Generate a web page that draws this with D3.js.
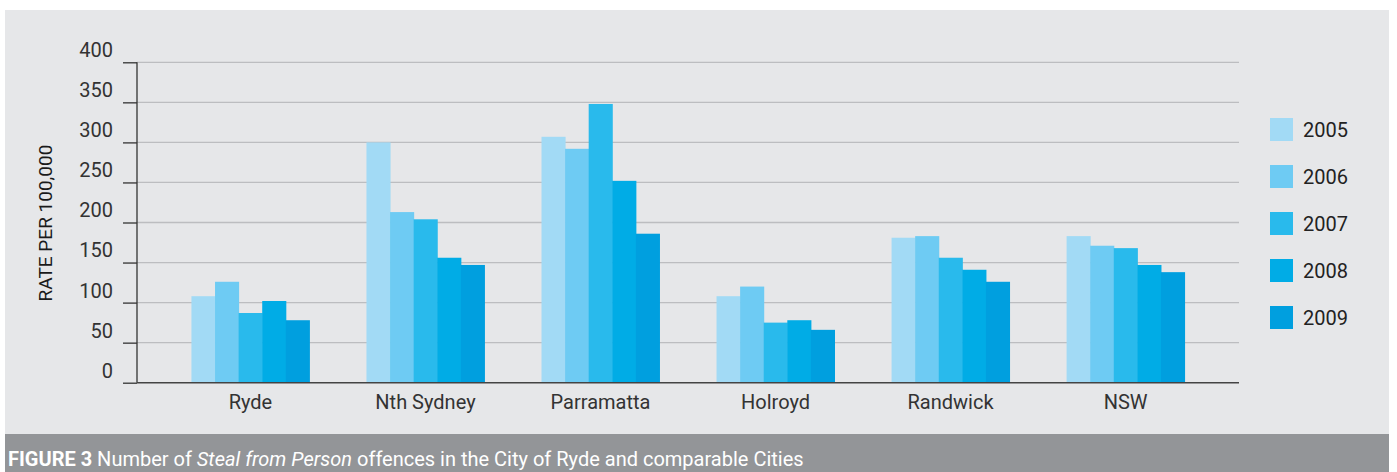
<!DOCTYPE html>
<html>
<head>
<meta charset="utf-8">
<script src="https://cdn.jsdelivr.net/npm/d3@7/dist/d3.min.js"></script>
<style>
  html, body { margin: 0; padding: 0; background: #ffffff; }
  svg { display: block; }
  text { font-family: Roboto, "Noto Sans", sans-serif; }
</style>
</head>
<body>
<svg id="chart" width="1397" height="472"></svg>
<script>
const categories = ["Ryde", "Nth Sydney", "Parramatta", "Holroyd", "Randwick", "NSW"];
const years = ["2005", "2006", "2007", "2008", "2009"];
const values2005 = [108, 300, 307, 108, 181, 183];
const values2006 = [126, 213, 292, 120, 183, 171];
const values2007 = [87, 204, 348, 75, 156, 168];
const values2008 = [102, 156, 252, 78, 141, 147];
const values2009 = [78, 147, 186, 66, 126, 138];
const yTicks = [0, 50, 100, 150, 200, 250, 300, 350, 400];
const colors = ["#a2daf5", "#6ecbf3", "#29baec", "#00ace6", "#009fdf"];

const series = [values2005, values2006, values2007, values2008, values2009];

const svg = d3.select("#chart");

// panel background
svg.append("rect").attr("x", 5).attr("y", 10).attr("width", 1384).attr("height", 424).attr("fill", "#e6e7e9");
// caption band
svg.append("rect").attr("x", 5).attr("y", 434).attr("width", 1384).attr("height", 38).attr("fill", "#939598");

const y = d3.scaleLinear().domain([0, 400]).range([382.7, 62.3]);
const x0 = d3.scaleBand().domain(categories).range([137, 1239]).paddingInner(0.326).paddingOuter(0.311);
const x1 = d3.scaleBand().domain(years).range([0, x0.bandwidth()]);

// gridlines
svg.append("g").selectAll("line").data(yTicks.filter(t => t > 0)).join("line")
  .attr("x1", 137).attr("x2", 1239)
  .attr("y1", d => y(d)).attr("y2", d => y(d))
  .attr("stroke", "#bcbdc0").attr("stroke-width", 1.3);

// bars
const groups = svg.append("g").selectAll("g").data(categories).join("g")
  .attr("transform", d => `translate(${x0(d)},0)`);
groups.selectAll("rect").data((c, ci) => years.map((yr, yi) => ({ yr, yi, v: series[yi][ci] })))
  .join("rect")
  .attr("x", d => x1(d.yr))
  .attr("width", x1.bandwidth() + 0.5)
  .attr("y", d => y(d.v))
  .attr("height", d => y(0) - y(d.v))
  .attr("fill", d => colors[d.yi]);

// y axis
const yAxis = d3.axisLeft(y).tickValues(yTicks).tickSize(14).tickPadding(10);
const gy = svg.append("g").attr("transform", "translate(137,0)").call(yAxis);
gy.select(".domain").attr("stroke", "#333").attr("stroke-width", 1.3).attr("d", `M0,${y(400)}V${y(0)}`);
gy.selectAll(".tick line").attr("stroke", "#333").attr("stroke-width", 1.3);
gy.selectAll(".tick text").attr("font-size", 20).attr("fill", "#333").attr("font-family", "Roboto, sans-serif").attr("dy", "-0.28em");

// baseline
svg.append("line").attr("x1", 137).attr("x2", 1239).attr("y1", y(0)).attr("y2", y(0))
  .attr("stroke", "#444").attr("stroke-width", 1.5);

// x axis labels
const xAxis = d3.axisBottom(x0).tickSize(0).tickPadding(12);
const gx = svg.append("g").attr("transform", `translate(0,${y(0)})`).call(xAxis);
gx.select(".domain").remove();
gx.selectAll(".tick text").attr("font-size", 20).attr("fill", "#333").attr("font-family", "Roboto, sans-serif");

// y label
svg.append("text")
  .attr("transform", "translate(52,223) rotate(-90)")
  .attr("text-anchor", "middle")
  .attr("font-size", 19).attr("font-weight", 400).attr("fill", "#1a1a1a")
  .text("RATE PER 100,000");

// legend
const legend = svg.append("g").selectAll("g").data(years).join("g")
  .attr("transform", (d, i) => `translate(1270,${118 + i * 47})`);
legend.append("rect").attr("width", 23).attr("height", 23).attr("fill", (d, i) => colors[i]);
legend.append("text").attr("x", 33).attr("y", 19).attr("font-size", 20).attr("fill", "#222").text(d => d);

// caption
const cap = svg.append("text").attr("x", 8).attr("y", 466).attr("font-size", 20).attr("fill", "#ffffff");
cap.append("tspan").attr("font-weight", 700).text("FIGURE 3");
cap.append("tspan").text(" Number of ");
cap.append("tspan").attr("font-style", "italic").text("Steal from Person");
cap.append("tspan").text(" offences in the City of Ryde and comparable Cities");
</script>
</body>
</html>
